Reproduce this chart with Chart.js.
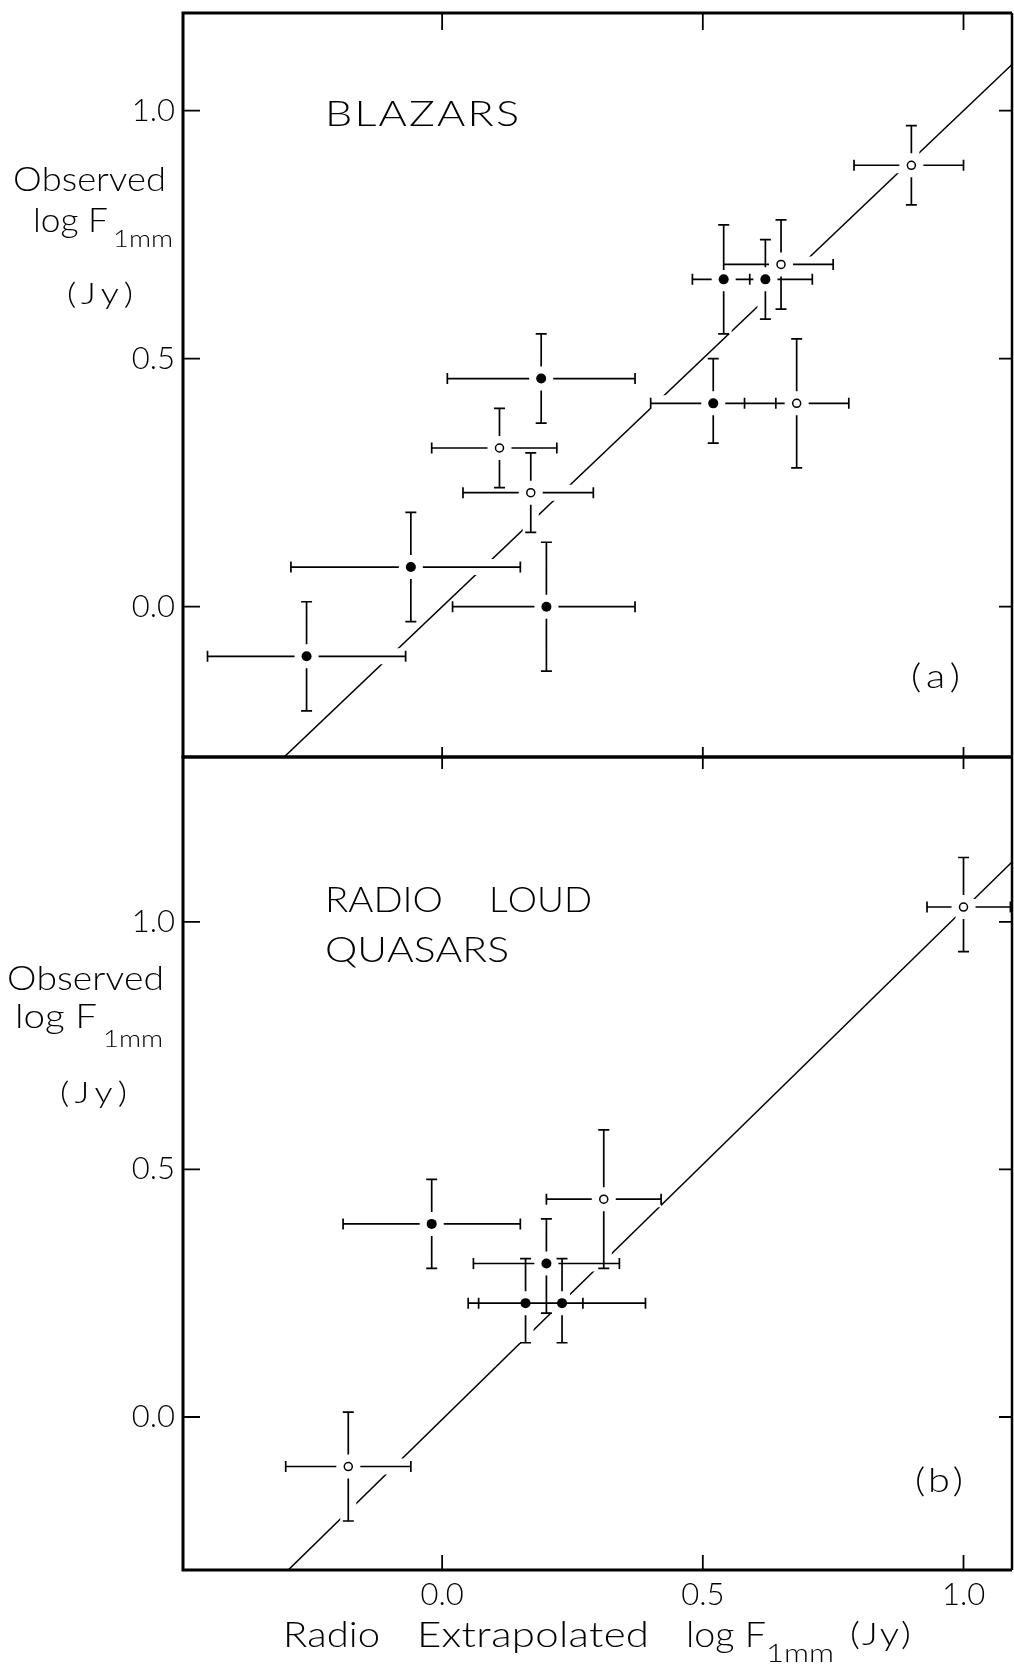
<!DOCTYPE html>
<html>
<head>
<meta charset="utf-8">
<script src="https://cdn.jsdelivr.net/npm/chart.js"></script>
<style>
  html, body { margin: 0; padding: 0; background: #fff; }
  #wrap { position: relative; width: 1014px; height: 1672px; }
  canvas { position: absolute; left: 0; top: 0; }
</style>
</head>
<body>
<div id="wrap">
  <canvas id="chartA" width="1014" height="1672"></canvas>
  <canvas id="chartB" width="1014" height="1672"></canvas>
</div>
<script>
// (a) blazars: observed vs radio-extrapolated log F(1mm), with error ranges
const blzX    = [-0.26, -0.06, 0.20, 0.11, 0.17, 0.19, 0.52, 0.68, 0.54, 0.62, 0.65, 0.90];
const blzY    = [-0.10,  0.08, 0.00, 0.32, 0.23, 0.46, 0.41, 0.41, 0.66, 0.66, 0.69, 0.89];
const blzXLo  = [-0.45, -0.29, 0.02, -0.02, 0.04, 0.01, 0.40, 0.58, 0.48, 0.59, 0.54, 0.79];
const blzXHi  = [-0.07,  0.15, 0.37, 0.22, 0.29, 0.37, 0.64, 0.78, 0.59, 0.71, 0.75, 1.00];
const blzYLo  = [-0.21, -0.03, -0.13, 0.24, 0.15, 0.37, 0.33, 0.28, 0.55, 0.58, 0.60, 0.81];
const blzYHi  = [ 0.01,  0.19, 0.13, 0.40, 0.31, 0.55, 0.50, 0.54, 0.77, 0.74, 0.78, 0.97];
const blzOpen = [false, false, false, true, true, false, false, true, false, false, true, true];
const blzFitX = [-0.31, 1.10];
const blzFitY = [-0.31, 1.10];

// (b) radio loud quasars
const rlqX    = [-0.18, -0.02, 0.20, 0.16, 0.23, 0.31, 1.00];
const rlqY    = [-0.10,  0.39, 0.31, 0.23, 0.23, 0.44, 1.03];
const rlqXLo  = [-0.30, -0.19, 0.06, 0.05, 0.07, 0.20, 0.93];
const rlqXHi  = [-0.06,  0.15, 0.34, 0.27, 0.39, 0.42, 1.09];
const rlqYLo  = [-0.21,  0.30, 0.21, 0.15, 0.15, 0.30, 0.94];
const rlqYHi  = [ 0.01,  0.48, 0.40, 0.32, 0.32, 0.58, 1.13];
const rlqOpen = [true, false, false, false, false, true, true];
const rlqFitX = [-0.30, 1.10];
const rlqFitY = [-0.314, 1.128];

const xTickVals = [0.0, 0.5, 1.0];
const yTickVals = [0.0, 0.5, 1.0];

const FONT = 'Lato, "DejaVu Sans", sans-serif';

// draws text fitted to a width: widen the glyphs a little, spread the rest
function spacedText(ctx, text, x, y, width, size) {
  ctx.font = `300 ${size}px ${FONT}`;
  const chars = [...text];
  const natural = chars.reduce((s, c) => s + ctx.measureText(c).width, 0);
  const sx = Math.max(1, Math.min(width / natural, 1.2));
  const extra = chars.length > 1 ? (width - natural * sx) / (chars.length - 1) : 0;
  ctx.save();
  ctx.translate(x, y);
  ctx.scale(sx, 1);
  let cx = 0;
  for (const c of chars) {
    ctx.fillText(c, cx, 0);
    cx += ctx.measureText(c).width + extra / sx;
  }
  ctx.restore();
}

// error crosses; runs right after the fit line so the halos cut it
const errorBars = {
  id: 'errorBars',
  afterDatasetDraw(chart, args, o) {
    if (args.index !== 2) return;
    const {ctx, chartArea: a} = chart;
    const xs = chart.scales.x, ys = chart.scales.y;
    const pts = o.x.map((v, i) => ({
      cx: xs.getPixelForValue(v), cy: ys.getPixelForValue(o.y[i]),
      x0: xs.getPixelForValue(o.xLo[i]), x1: xs.getPixelForValue(o.xHi[i]),
      y0: ys.getPixelForValue(o.yLo[i]), y1: ys.getPixelForValue(o.yHi[i])
    }));
    ctx.save();
    ctx.beginPath();
    ctx.rect(a.left, a.top, a.right - a.left, a.bottom - a.top);
    ctx.clip();

    ctx.strokeStyle = '#fff';
    ctx.fillStyle = '#fff';
    ctx.lineWidth = 16;
    ctx.lineCap = 'butt';
    pts.forEach(p => {
      ctx.beginPath();
      ctx.moveTo(p.x0, p.cy); ctx.lineTo(p.x1, p.cy);
      ctx.moveTo(p.cx, p.y0); ctx.lineTo(p.cx, p.y1);
      ctx.stroke();
      ctx.beginPath();
      ctx.arc(p.cx, p.cy, 9, 0, Math.PI * 2);
      ctx.fill();
    });

    const gap = 12, cap = 5.5;
    ctx.strokeStyle = '#000';
    ctx.lineWidth = 1.7;
    ctx.beginPath();
    pts.forEach(p => {
      if (p.x0 < p.cx - gap) { ctx.moveTo(p.x0, p.cy); ctx.lineTo(p.cx - gap, p.cy); }
      if (p.x1 > p.cx + gap) { ctx.moveTo(p.cx + gap, p.cy); ctx.lineTo(p.x1, p.cy); }
      if (p.y1 < p.cy - gap) { ctx.moveTo(p.cx, p.y1); ctx.lineTo(p.cx, p.cy - gap); }
      if (p.y0 > p.cy + gap) { ctx.moveTo(p.cx, p.cy + gap); ctx.lineTo(p.cx, p.y0); }
      ctx.moveTo(p.x0, p.cy - cap); ctx.lineTo(p.x0, p.cy + cap);
      ctx.moveTo(p.x1, p.cy - cap); ctx.lineTo(p.x1, p.cy + cap);
      ctx.moveTo(p.cx - cap, p.y0); ctx.lineTo(p.cx + cap, p.y0);
      ctx.moveTo(p.cx - cap, p.y1); ctx.lineTo(p.cx + cap, p.y1);
    });
    ctx.stroke();
    ctx.restore();
  }
};

// box, inward ticks and the lettering
const panelFrame = {
  id: 'panelFrame',
  afterDraw(chart, args, o) {
    const {ctx, chartArea: a} = chart;
    const xs = chart.scales.x, ys = chart.scales.y;
    ctx.save();
    ctx.strokeStyle = '#000';
    ctx.lineWidth = 1.8;
    ctx.beginPath();
    yTickVals.forEach(v => {
      const py = ys.getPixelForValue(v);
      ctx.moveTo(a.left, py); ctx.lineTo(a.left + o.tick.left, py);
      ctx.moveTo(a.right, py); ctx.lineTo(a.right - o.tick.right, py);
    });
    xTickVals.forEach(v => {
      const px = xs.getPixelForValue(v);
      ctx.moveTo(px, a.top); ctx.lineTo(px, a.top + o.tick.top);
      ctx.moveTo(px, a.bottom); ctx.lineTo(px, a.bottom - o.tick.bottom);
    });
    ctx.stroke();

    ctx.lineWidth = 3;
    ctx.beginPath();
    ctx.moveTo(a.left, a.top); ctx.lineTo(a.right, a.top);
    ctx.moveTo(a.left, a.top - 1.5); ctx.lineTo(a.left, a.bottom + 1.5);
    ctx.moveTo(a.left, a.bottom); ctx.lineTo(a.right, a.bottom);
    ctx.stroke();
    ctx.lineWidth = 2.5;
    ctx.beginPath();
    ctx.moveTo(a.right, a.top); ctx.lineTo(a.right, a.bottom);
    ctx.stroke();

    ctx.fillStyle = '#000';
    ctx.textBaseline = 'alphabetic';
    ctx.textAlign = 'left';
    o.texts.forEach(t => spacedText(ctx, t[0], t[1], t[2], t[3], t[4]));
    ctx.restore();
  }
};

function points(xv, yv, open, wantOpen) {
  return xv.map((x, i) => ({x, y: yv[i]})).filter((_, i) => open[i] === wantOpen);
}

function panelChart(id, p) {
  const tickFont = {family: FONT, size: 31, weight: 300};
  return new Chart(document.getElementById(id), {
    type: 'scatter',
    data: {
      datasets: [
        { label: 'filled', data: points(p.x, p.y, p.open, false),
          pointRadius: 5, pointBackgroundColor: '#000', pointBorderColor: '#000', pointBorderWidth: 0 },
        { label: 'open', data: points(p.x, p.y, p.open, true),
          pointRadius: 4, pointBackgroundColor: '#fff', pointBorderColor: '#000', pointBorderWidth: 1.5 },
        { type: 'line', label: 'fit', data: p.fitX.map((x, i) => ({x, y: p.fitY[i]})),
          borderColor: '#000', borderWidth: 1.5, pointRadius: 0, fill: false }
      ]
    },
    options: {
      responsive: false,
      animation: false,
      events: [],
      devicePixelRatio: 1,
      layout: { autoPadding: false, padding: p.padding },
      plugins: {
        legend: { display: false },
        tooltip: { enabled: false },
        errorBars: { x: p.x, y: p.y, xLo: p.xLo, xHi: p.xHi, yLo: p.yLo, yHi: p.yHi },
        panelFrame: { tick: p.tick, texts: p.texts }
      },
      scales: {
        x: {
          type: 'linear', min: -0.497, max: 1.093,
          grid: { display: false, drawTicks: false },
          border: { display: false },
          afterBuildTicks: s => { s.ticks = xTickVals.map(v => ({value: v})); },
          afterFit: s => { s.height = p.xAxisHeight; s.paddingLeft = 0; s.paddingRight = 0; },
          ticks: { display: p.xLabels, color: '#000', font: tickFont, padding: 6,
                   maxRotation: 0, callback: v => v.toFixed(1) }
        },
        y: {
          type: 'linear', min: p.yMin, max: p.yMax,
          grid: { display: false, drawTicks: false },
          border: { display: false },
          afterBuildTicks: s => { s.ticks = yTickVals.map(v => ({value: v})); },
          afterFit: s => { s.width = 183; s.paddingTop = 0; s.paddingBottom = 0; },
          ticks: { color: '#000', font: tickFont, padding: 8, callback: v => v.toFixed(1) }
        }
      }
    },
    plugins: [errorBars, panelFrame]
  });
}

panelChart('chartA', {
  x: blzX, y: blzY, xLo: blzXLo, xHi: blzXHi, yLo: blzYLo, yHi: blzYHi, open: blzOpen,
  fitX: blzFitX, fitY: blzFitY,
  yMin: -0.303, yMax: 1.197,
  padding: { left: 0, right: 2, top: 13, bottom: 1672 - 757 },
  xAxisHeight: 0, xLabels: false,
  tick: { left: 17, right: 13, top: 17, bottom: 10 },
  texts: [
    ['BLAZARS', 325, 126, 194, 36],
    ['Observed', 13, 190.7, 153, 33],
    ['log F', 33, 231.7, 75, 33],
    ['1mm', 113, 246.7, 60, 24],
    ['(Jy)', 67, 303.5, 66, 30],
    ['(a)', 911, 688, 49, 33]
  ]
});

panelChart('chartB', {
  x: rlqX, y: rlqY, xLo: rlqXLo, xHi: rlqXHi, yLo: rlqYLo, yHi: rlqYHi, open: rlqOpen,
  fitX: rlqFitX, fitY: rlqFitY,
  yMin: -0.309, yMax: 1.333,
  padding: { left: 0, right: 2, top: 757, bottom: 0 },
  xAxisHeight: 102, xLabels: true,
  tick: { left: 17, right: 13, top: 12, bottom: 15 },
  texts: [
    ['RADIO', 325, 912.3, 118, 36],
    ['LOUD', 489, 912.3, 103, 36],
    ['QUASARS', 325, 961.7, 184, 36],
    ['Observed', 7, 990, 157, 33],
    ['log F', 15, 1028.3, 82, 33],
    ['1mm', 103, 1046.7, 60, 24],
    ['(Jy)', 60, 1103, 67, 30],
    ['(b)', 915, 1492, 48, 33],
    ['Radio', 283, 1646.7, 97, 35],
    ['Extrapolated', 417, 1646.7, 232, 35],
    ['log F', 686, 1646.7, 80, 35],
    ['1mm', 766, 1661.7, 68, 26],
    ['(Jy)', 850, 1645, 61, 32]
  ]
});
</script>
</body>
</html>
